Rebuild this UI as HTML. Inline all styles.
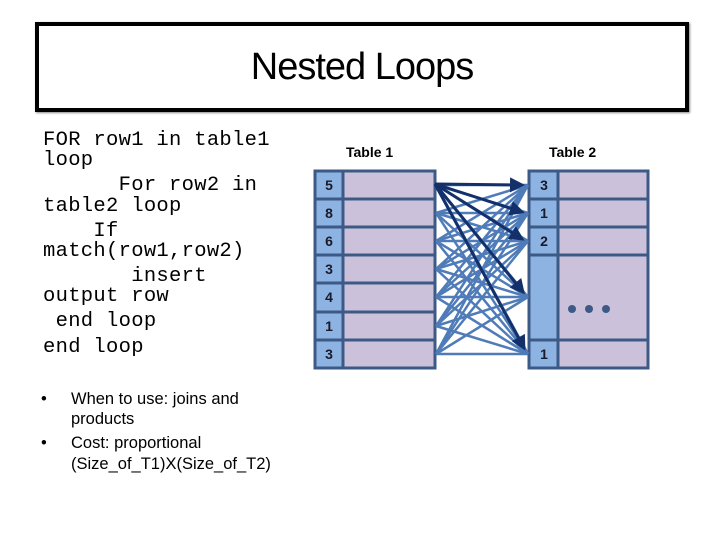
<!DOCTYPE html>
<html><head><meta charset="utf-8"><style>
html,body{margin:0;padding:0;background:#fff;}
body{width:720px;height:540px;position:relative;overflow:hidden;}
.title{position:absolute;left:35px;top:22px;width:646px;height:82px;border:4px solid #000;box-shadow:1px 1px 2px #888;}
.title div{position:absolute;left:0;right:0;top:20px;text-align:center;font-family:"Liberation Sans",sans-serif;font-size:38px;color:#000;letter-spacing:-1px;}
.c{position:absolute;font-family:"Liberation Mono",monospace;font-size:20.5px;line-height:22px;color:#000;white-space:pre;letter-spacing:0.3px;}
.b{position:absolute;font-family:"Liberation Sans",sans-serif;font-size:16.5px;line-height:20px;color:#000;white-space:pre;}
</style></head><body>
<div class="title"><div>Nested Loops</div></div>
<div class="c" style="left:43px;top:130px">FOR row1 in table1</div>
<div class="c" style="left:43px;top:150px">loop</div>
<div class="c" style="left:43px;top:175px">      For row2 in</div>
<div class="c" style="left:43px;top:196px">table2 loop</div>
<div class="c" style="left:43px;top:221px">    If</div>
<div class="c" style="left:43px;top:241px">match(row1,row2)</div>
<div class="c" style="left:43px;top:266px">       insert</div>
<div class="c" style="left:43px;top:286px">output row</div>
<div class="c" style="left:43px;top:311px"> end loop</div>
<div class="c" style="left:43px;top:337px">end loop</div>
<div class="b" style="left:41px;top:389px">•</div>
<div class="b" style="left:71px;top:389px">When to use: joins and</div>
<div class="b" style="left:71px;top:409px">products</div>
<div class="b" style="left:41px;top:433px">•</div>
<div class="b" style="left:71px;top:433px">Cost: proportional</div>
<div class="b" style="left:71px;top:454px">(Size_of_T1)X(Size_of_T2)</div>
<svg width="720" height="540" style="position:absolute;left:0;top:0" xmlns="http://www.w3.org/2000/svg">
<defs><marker id="ah" markerWidth="5" markerHeight="5" refX="4" refY="2.5" orient="auto" markerUnits="strokeWidth"><path d="M0,0 L5,2.5 L0,5 z" fill="#13306a"/></marker></defs>
<g font-family="Liberation Sans,sans-serif" font-weight="bold" font-size="14" fill="#000">
<text x="346" y="157">Table 1</text><text x="549" y="157">Table 2</text>
</g>
<g stroke="#3c5a85" stroke-width="3">
<rect x="315" y="171" width="28" height="197" fill="#8db3e2"/>
<rect x="343" y="171" width="92" height="197" fill="#ccc1da"/>
<line x1="315" y1="199" x2="435" y2="199"/><line x1="315" y1="227" x2="435" y2="227"/>
<line x1="315" y1="255" x2="435" y2="255"/><line x1="315" y1="283" x2="435" y2="283"/>
<line x1="315" y1="312" x2="435" y2="312"/><line x1="315" y1="340" x2="435" y2="340"/>
<rect x="529" y="171" width="29" height="197" fill="#8db3e2"/>
<rect x="558" y="171" width="90" height="197" fill="#ccc1da"/>
<line x1="529" y1="199" x2="648" y2="199"/><line x1="529" y1="227" x2="648" y2="227"/>
<line x1="529" y1="255" x2="648" y2="255"/><line x1="529" y1="340" x2="648" y2="340"/>
</g>
<g font-family="Liberation Sans,sans-serif" font-weight="bold" font-size="14" fill="#1a1a2a" text-anchor="middle">
<text x="329" y="190">5</text><text x="329" y="218">8</text><text x="329" y="246">6</text><text x="329" y="274">3</text><text x="329" y="302">4</text><text x="329" y="331">1</text><text x="329" y="359">3</text>
<text x="544" y="190">3</text><text x="544" y="218">1</text><text x="544" y="246">2</text><text x="544" y="359">1</text>
</g>
<g fill="#3c5a85"><circle cx="572" cy="309" r="4"/><circle cx="589" cy="309" r="4"/><circle cx="606" cy="309" r="4"/></g>
<g stroke="#4f7cb8" stroke-width="2.5">
<line x1="436" y1="185" x2="528" y2="185"/><line x1="436" y1="185" x2="528" y2="213"/><line x1="436" y1="185" x2="528" y2="241"/><line x1="436" y1="185" x2="528" y2="297"/><line x1="436" y1="185" x2="528" y2="354"/>
<line x1="436" y1="213" x2="528" y2="185"/><line x1="436" y1="213" x2="528" y2="213"/><line x1="436" y1="213" x2="528" y2="241"/><line x1="436" y1="213" x2="528" y2="297"/><line x1="436" y1="213" x2="528" y2="354"/>
<line x1="436" y1="241" x2="528" y2="185"/><line x1="436" y1="241" x2="528" y2="213"/><line x1="436" y1="241" x2="528" y2="241"/><line x1="436" y1="241" x2="528" y2="297"/><line x1="436" y1="241" x2="528" y2="354"/>
<line x1="436" y1="269" x2="528" y2="185"/><line x1="436" y1="269" x2="528" y2="213"/><line x1="436" y1="269" x2="528" y2="241"/><line x1="436" y1="269" x2="528" y2="297"/><line x1="436" y1="269" x2="528" y2="354"/>
<line x1="436" y1="297" x2="528" y2="185"/><line x1="436" y1="297" x2="528" y2="213"/><line x1="436" y1="297" x2="528" y2="241"/><line x1="436" y1="297" x2="528" y2="297"/><line x1="436" y1="297" x2="528" y2="354"/>
<line x1="436" y1="326" x2="528" y2="185"/><line x1="436" y1="326" x2="528" y2="213"/><line x1="436" y1="326" x2="528" y2="241"/><line x1="436" y1="326" x2="528" y2="297"/><line x1="436" y1="326" x2="528" y2="354"/>
<line x1="436" y1="354" x2="528" y2="185"/><line x1="436" y1="354" x2="528" y2="213"/><line x1="436" y1="354" x2="528" y2="241"/><line x1="436" y1="354" x2="528" y2="297"/><line x1="436" y1="354" x2="528" y2="354"/>
</g>
<g stroke="#13306a" stroke-width="3" marker-end="url(#ah)">
<line x1="435" y1="184" x2="522" y2="185"/>
<line x1="435" y1="184" x2="522" y2="212"/>
<line x1="435" y1="184" x2="522" y2="239"/>
<line x1="435" y1="184" x2="523" y2="292"/>
<line x1="435" y1="184" x2="524" y2="348"/>
</g>
</svg>
</body></html>
